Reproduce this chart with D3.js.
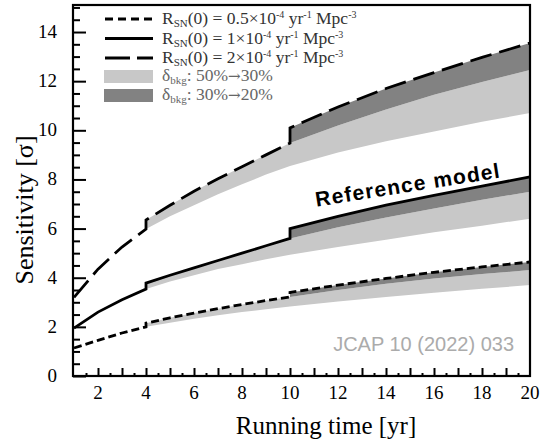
<!DOCTYPE html>
<html>
  <head>
    <script src="https://cdn.jsdelivr.net/npm/d3@7"></script>
    <style>
      body { margin: 0; background: #fff; }
      text { font-family: "Liberation Serif", "Times New Roman", serif; }
    </style>
  </head>
  <body>
    <svg id="chart"></svg>
    <script>
      // running time samples (yr)
      const years  = [1, 2, 3, 4, 5, 6, 7, 8, 9, 10, 12, 14, 16, 18, 20];
      const yearsB = [4, 5, 6, 7, 8, 9, 10, 12, 14, 16, 18, 20];   // after 1st bkg reduction
      const yearsC = [10, 12, 14, 16, 18, 20];                     // after 2nd bkg reduction

      // delta_bkg = 50% all along
      const low05 = [1.14, 1.45, 1.75, 2.0, 2.17, 2.33, 2.47, 2.6, 2.72, 2.83, 3.03, 3.22, 3.39, 3.55, 3.7];
      const low1  = [1.95, 2.6, 3.1, 3.54, 3.85, 4.1, 4.35, 4.55, 4.75, 4.93, 5.25, 5.55, 5.85, 6.12, 6.4];
      const low2  = [3.2, 4.35, 5.25, 5.98, 6.5, 6.95, 7.4, 7.8, 8.2, 8.55, 9.1, 9.55, 9.95, 10.35, 10.7];
      // delta_bkg 50% -> 30% at 4 yr
      const mid05 = [2.15, 2.37, 2.56, 2.74, 2.91, 3.07, 3.22, 3.5, 3.75, 3.97, 4.15, 4.31];
      const mid1  = [3.78, 4.1, 4.4, 4.7, 5.0, 5.3, 5.6, 6.05, 6.45, 6.82, 7.17, 7.5];
      const mid2  = [6.35, 6.95, 7.52, 8.03, 8.52, 9.0, 9.48, 10.2, 10.85, 11.45, 11.97, 12.45];
      // delta_bkg 30% -> 20% at 10 yr
      const top05 = [3.4, 3.7, 3.97, 4.22, 4.44, 4.64];
      const top1  = [6.0, 6.5, 6.95, 7.35, 7.73, 8.1];
      const top2  = [10.1, 10.95, 11.7, 12.35, 12.97, 13.55];

      const xTicks = [2, 4, 6, 8, 10, 12, 14, 16, 18, 20];
      const yTicks = [0, 2, 4, 6, 8, 10, 12, 14];

      const models = [
        {low: low05, mid: mid05, top: top05, dash: "8,4"},
        {low: low1,  mid: mid1,  top: top1,  dash: null},
        {low: low2,  mid: mid2,  top: top2,  dash: "22,8"}
      ];
      const legendLines = [
        {value: "0.5", dash: "8,5"},
        {value: "1", dash: null},
        {value: "2", dash: "25,7"}
      ];
      const legendBands = [
        {from: "50%", to: "30%", color: "#c8c8c8"},
        {from: "30%", to: "20%", color: "#828282"}
      ];

      const W = 541, H = 440;
      const plot = {left: 73, right: 530, top: 5, bottom: 376};
      const svg = d3.select("#chart").attr("width", W).attr("height", H);

      const x = d3.scaleLinear().domain([1, 20]).range([74, plot.right]);
      const y = d3.scaleLinear().domain([0, 15.1]).range([plot.bottom, plot.top]);

      const lightGrey = "#c8c8c8", darkGrey = "#828282";

      const area = d3.area().x(d => x(d.t)).y0(d => y(d.a)).y1(d => y(d.b));
      const line = d3.line().x(d => x(d.t)).y(d => y(d.v));

      // bands
      models.forEach(m => {
        const lowAt = t => m.low[years.indexOf(t)];
        const midAt = t => m.mid[yearsB.indexOf(t)];
        svg.append("path")
          .attr("fill", lightGrey)
          .attr("d", area(yearsB.map(t => ({t: t, a: lowAt(t), b: midAt(t)}))));
        svg.append("path")
          .attr("fill", darkGrey)
          .attr("d", area(yearsC.map((t, i) => ({t: t, a: midAt(t), b: m.top[i]}))));
      });

      // curves (best case: both reductions)
      models.forEach(m => {
        const pts = [];
        years.forEach((t, i) => { if (t <= 4) pts.push({t: t, v: m.low[i]}); });
        yearsB.forEach((t, i) => { if (t <= 10) pts.push({t: t, v: m.mid[i]}); });
        yearsC.forEach((t, i) => pts.push({t: t, v: m.top[i]}));
        svg.append("path")
          .attr("fill", "none")
          .attr("stroke", "#000")
          .attr("stroke-width", 2.8)
          .attr("stroke-dasharray", m.dash)
          .attr("d", line(pts));
      });

      // frame
      svg.append("rect")
        .attr("x", plot.left).attr("y", plot.top)
        .attr("width", plot.right - plot.left).attr("height", plot.bottom - plot.top)
        .attr("fill", "none").attr("stroke", "#000").attr("stroke-width", 2.2);

      // y ticks (inward)
      const yAxis = d3.axisRight(y).tickValues(d3.range(0, 15.01, 0.5))
        .tickSize(0).tickFormat("");
      const gy = svg.append("g").attr("transform", `translate(${plot.left},0)`).call(yAxis);
      gy.select(".domain").remove();
      gy.selectAll(".tick line")
        .attr("x2", d => (d % 2 === 0 ? 13 : 7))
        .attr("stroke", "#000").attr("stroke-width", 2);
      svg.append("g").selectAll("text").data(yTicks).join("text")
        .attr("x", 57).attr("y", d => y(d) + 6)
        .attr("text-anchor", "end").attr("font-size", 19)
        .text(d => d);

      // x ticks (inward)
      const xAxis = d3.axisTop(x).tickValues(d3.range(1.5, 20, 0.5))
        .tickSize(0).tickFormat("");
      const gx = svg.append("g").attr("transform", `translate(0,${plot.bottom})`).call(xAxis);
      gx.select(".domain").remove();
      gx.selectAll(".tick line")
        .attr("y2", d => (d % 1 === 0 ? -8 : -3))
        .attr("stroke", "#000").attr("stroke-width", 2);
      svg.append("g").selectAll("text").data(xTicks).join("text")
        .attr("x", d => x(d)).attr("y", 399)
        .attr("text-anchor", "middle").attr("font-size", 19)
        .text(d => d);

      // axis titles
      svg.append("text")
        .attr("x", 326).attr("y", 434)
        .attr("text-anchor", "middle").attr("font-size", 25)
        .text("Running time [yr]");
      svg.append("text")
        .attr("transform", "translate(33,210) rotate(-90)")
        .attr("text-anchor", "middle").attr("font-size", 26)
        .text("Sensitivity [\u03c3]");

      // annotations
      svg.append("text")
        .attr("transform", "translate(409,192) rotate(-9)")
        .attr("text-anchor", "middle")
        .attr("font-weight", "bold").attr("font-size", 21)
        .attr("letter-spacing", 1.2)
        .style("font-family", "'Liberation Sans', Arial, sans-serif")
        .text("Reference model");
      svg.append("text")
        .attr("x", 514).attr("y", 351)
        .attr("text-anchor", "end").attr("font-size", 20)
        .attr("fill", "#ababab")
        .style("font-family", "'Liberation Sans', Arial, sans-serif")
        .text("JCAP 10 (2022) 033");

      // legend
      const lg = svg.append("g");
      legendLines.forEach((d, i) => {
        const cy = 19 + i * 19.5;
        lg.append("line")
          .attr("x1", 105).attr("x2", 153).attr("y1", cy).attr("y2", cy)
          .attr("stroke", "#000").attr("stroke-width", 3)
          .attr("stroke-dasharray", d.dash);
        const t = lg.append("text").attr("x", 162).attr("y", cy + 5)
          .attr("font-size", 17.5).attr("fill", "#333");
        t.append("tspan").text("R");
        t.append("tspan").attr("font-size", 11).attr("dy", 3).text("SN");
        t.append("tspan").attr("dy", -3).text(`(0) = ${d.value}\u00d710`);
        t.append("tspan").attr("font-size", 10).attr("dy", -6).text("-4");
        t.append("tspan").attr("dy", 6).text(" yr");
        t.append("tspan").attr("font-size", 10).attr("dy", -6).text("-1");
        t.append("tspan").attr("dy", 6).text(" Mpc");
        t.append("tspan").attr("font-size", 10).attr("dy", -6).text("-3");
      });
      legendBands.forEach((d, i) => {
        const top = 70 + i * 19;
        lg.append("rect")
          .attr("x", 104).attr("y", top).attr("width", 49).attr("height", 13)
          .attr("fill", d.color);
        const t = lg.append("text").attr("x", 162).attr("y", top + 11)
          .attr("font-size", 17.5).attr("fill", "#666");
        t.append("tspan").text("\u03b4");
        t.append("tspan").attr("font-size", 11).attr("dy", 3).text("bkg");
        t.append("tspan").attr("dy", -3).text(": " + d.from);
        t.append("tspan").style("font-family", "'DejaVu Serif', serif").attr("font-size", 15).text("\u2192");
        t.append("tspan").text(d.to);
      });
    </script>
  </body>
</html>
